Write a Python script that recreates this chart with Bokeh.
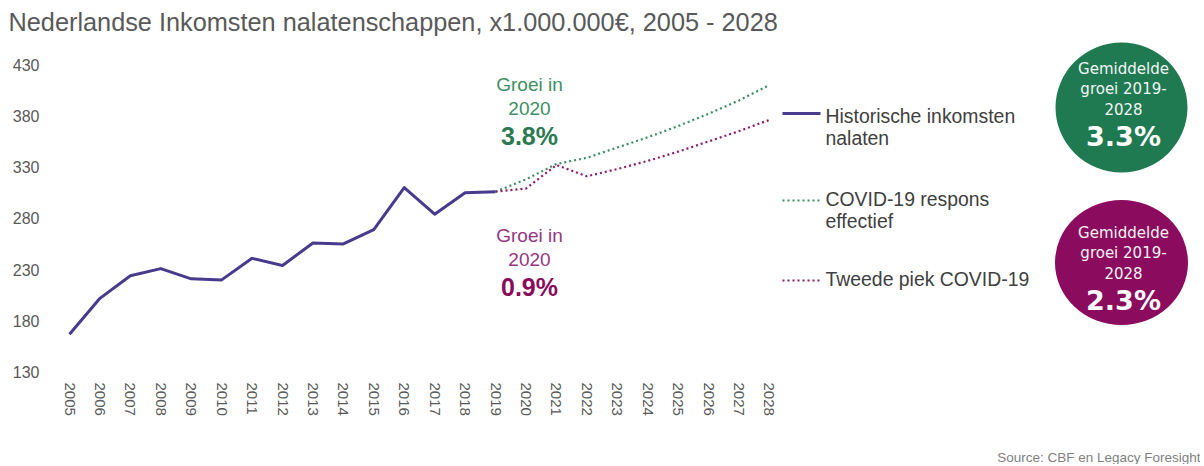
from bokeh.plotting import figure
from bokeh.models import FixedTicker, Range1d, Title
from bokeh.embed import file_html
from bokeh.resources import INLINE
from bokeh.core.properties import value

# ---------------- data ----------------
hist_years = list(range(2005, 2020))
hist_values = [167, 202, 224, 231, 221, 220, 241, 234, 256, 255, 269, 310, 284, 305, 306]
proj_years = list(range(2019, 2029))
respons_values = [306, 318, 333, 339, 349, 359, 370, 382, 395, 410]
piek_values = [306, 309, 332, 321, 328, 336, 345, 355, 365, 376]
x_ticks = list(range(2005, 2029))
y_ticks = [130, 180, 230, 280, 330, 380, 430]
series_labels = ["Historische inkomsten\nnalaten", "COVID-19 respons\neffectief", "Tweede piek COVID-19"]
growth_2020_label = "Groei in\n2020"
growth_2020 = ["3.8%", "0.9%"]
avg_label = "Gemiddelde\ngroei 2019-\n2028"
avg_growth = ["3.3%", "2.3%"]
title_text = "Nederlandse Inkomsten nalatenschappen, x1.000.000\u20ac, 2005 - 2028"
source_text = "Source: CBF en Legacy Foresight"

# ---------------- styles / layout ----------------
HIST_C = "#463b8c"
GREEN_C = "#3a8e62"
PURPLE_C = "#8e1a63"
GREEN_FILL = "#1f7a52"
PURPLE_FILL = "#8b0b5e"
GRAY = "#595959"
FONT = "Liberation Sans"

BL, BT, BB = 55, 38, 84
FW, FH = 1145, 342
PAGE_L, PAGE_T = BL, BT          # frame origin in the picture
PX_YEAR = 30.43
PX_UNIT = 1.0256
x_start = 2005 - (69 - PAGE_L) / PX_YEAR
x_end = x_start + FW / PX_YEAR
y_end = 430 + (64 - PAGE_T) / PX_UNIT
y_start = y_end - FH / PX_UNIT


def sx(px):
    return x_start + (px - PAGE_L) / PX_YEAR


def sy(py):
    return y_end - (py - PAGE_T) / PX_UNIT


p = figure(frame_width=FW, frame_height=FH, min_border_left=BL, min_border_right=0,
           min_border_top=BT, min_border_bottom=BB,
           x_range=Range1d(x_start, x_end), y_range=Range1d(y_start, y_end),
           output_backend="svg", toolbar_location=None)
p.outline_line_color = None
p.background_fill_color = "white"
p.border_fill_color = "white"
p.xgrid.visible = False
p.ygrid.visible = False

# title
p.title.text = title_text
p.title.text_font = FONT
p.title.text_font_size = "25.3px"
p.title.text_font_style = "normal"
p.title.text_color = GRAY
p.title.offset = -(PAGE_L - 8)
p.title.standoff = 6

# axes
for ax in (p.xaxis[0], p.yaxis[0]):
    ax.axis_line_color = None
    ax.major_tick_line_color = None
    ax.minor_tick_line_color = None
    ax.major_tick_out = 0
    ax.major_tick_in = 0
    ax.major_label_text_font = FONT
    ax.major_label_text_color = GRAY
p.xaxis[0].ticker = FixedTicker(ticks=x_ticks)
p.xaxis[0].major_label_orientation = "vertical"
p.xaxis[0].major_label_text_font_size = "15px"
p.xaxis[0].major_label_standoff = 2
p.yaxis[0].ticker = FixedTicker(ticks=y_ticks)
p.yaxis[0].major_label_text_font_size = "16px"
p.yaxis[0].major_label_standoff = 16

# series
p.line(proj_years, respons_values, line_color=GREEN_C, line_width=2.2, line_dash="2 3")
p.line(proj_years, piek_values, line_color=PURPLE_C, line_width=2.2, line_dash="2 3")
p.line(hist_years, hist_values, line_color=HIST_C, line_width=3, line_join="round")

# manual legend
leg_styles = [(HIST_C, "solid", 3), (GREEN_C, "2 3", 2.2), (PURPLE_C, "2 3", 2.2)]
leg_line_y = [113, 200, 280]
leg_text_y = [115, 198, 278]
for lab, (c, dash, w), ly, ty in zip(series_labels, leg_styles, leg_line_y, leg_text_y):
    p.line([sx(782), sx(820)], [sy(ly), sy(ly)], line_color=c, line_dash=dash, line_width=w)
    lines = lab.split("\n")
    p.text([sx(825)] * len(lines), [sy(ty + 22 * i) for i in range(len(lines))], text=lines,
           text_font=value(FONT), text_font_size="19.4px", text_color="#404040",
           text_align="left", text_baseline="middle")

# growth 2020 annotations
ann = [(growth_2020[0], 84, "#3d8f63", "#2b7a52"), (growth_2020[1], 235, "#963682", "#8b0a5c")]
for pct, y0, c1, c2 in ann:
    lines = growth_2020_label.split("\n")
    p.text([sx(529)] * len(lines), [sy(y0 + 24 * i) for i in range(len(lines))], text=lines,
           text_font=value(FONT), text_font_size="19px", text_color=c1,
           text_align="center", text_baseline="middle")
    p.text([sx(529)], [sy(y0 + 51)], text=[pct], text_font=value(FONT), text_font_size="25px",
           text_font_style="bold", text_color=c2, text_align="center", text_baseline="middle")

# average growth circles
circ = [(avg_growth[0], 107, 132, 130, GREEN_FILL, 68), (avg_growth[1], 262, 133, 125, PURPLE_FILL, 232)]
for pct, cy, w, h, fc, ty in circ:
    p.ellipse(x=[sx(1121)], y=[sy(cy)], width=w, height=h, width_units="screen",
              height_units="screen", fill_color=fc, line_color=None)
    lines = avg_label.split("\n")
    p.text([sx(1123)] * len(lines), [sy(ty + 20 * i) for i in range(len(lines))], text=lines,
           text_font=value("DejaVu Sans"), text_font_size="15px", text_color="#f4f4f4",
           text_align="center", text_baseline="middle")
    p.text([sx(1123)], [sy(ty + 68)], text=[pct], text_font=value("DejaVu Sans"),
           text_font_size="27px", text_font_style="bold", text_color="white",
           text_align="center", text_baseline="middle")

# source, below the year labels (blank spacer title keeps it near the bottom edge)
spacer = Title(text=" ", text_font=FONT, text_font_size="13px", standoff=12)
p.add_layout(spacer, "below")
src = Title(text=source_text, align="right", text_font=FONT, text_font_size="13.5px",
            text_font_style="normal", text_color="#7f7f7f", standoff=0)
p.add_layout(src, "below")

open("out.html", "w").write(file_html(p, INLINE))
